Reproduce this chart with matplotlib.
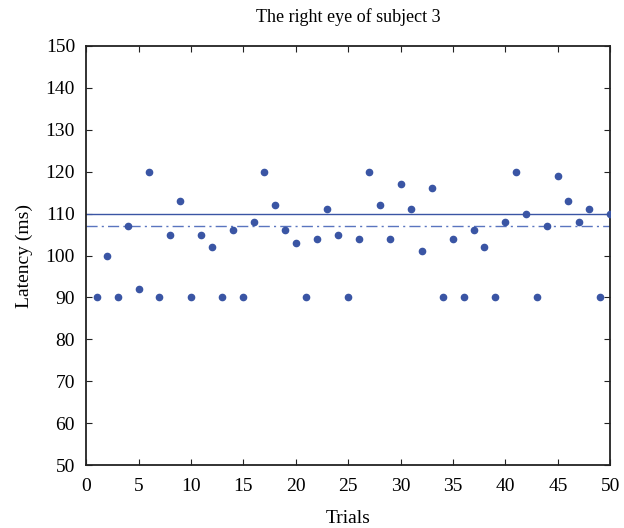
import numpy as np
import matplotlib.pyplot as plt

plt.rcParams['font.family'] = ['Liberation Serif', 'DejaVu Serif']

trials = np.arange(1, 51)
latency = [90, 100, 90, 107, 92, 120, 90, 105, 113, 90,
           105, 102, 90, 106, 90, 108, 120, 112, 106, 103,
           90, 104, 111, 105, 90, 104, 120, 112, 104, 117,
           111, 101, 116, 90, 104, 90, 106, 102, 90, 108,
           120, 110, 90, 107, 119, 113, 108, 111, 90, 110]
solid_level = 110
dashdot_level = 107

fig = plt.figure(figsize=(6.24, 5.28), dpi=100)
ax = fig.add_axes([0.138, 0.119, 0.840, 0.794])

ax.plot(trials, latency, 'o', color='#3a55a4', markersize=4.5, zorder=3)
ax.axhline(solid_level, color='#3a55a4', lw=1.0)
ax.axhline(dashdot_level, color='#5a75bf', lw=1.0, ls='-.', dashes=(8, 3, 1.5, 3))

ax.set_xlim(0, 50)
ax.set_ylim(50, 150)
ax.set_xticks(np.arange(0, 51, 5))
ax.set_yticks(np.arange(50, 151, 10))
ax.tick_params(direction='in', top=True, right=True, labelsize=14,
               length=4, width=0.8, color='#222222')
ax.tick_params(axis='y', pad=8)
ax.tick_params(axis='x', pad=9)
for s in ax.spines.values():
    s.set_linewidth(1.3)
    s.set_color('#222222')

ax.set_xlabel('Trials', fontsize=14, labelpad=11)
ax.set_ylabel('Latency (ms)', fontsize=14, labelpad=9)
ax.set_title('The right eye of subject 3', fontsize=13, pad=17)

fig.savefig('out.png', dpi=100)
